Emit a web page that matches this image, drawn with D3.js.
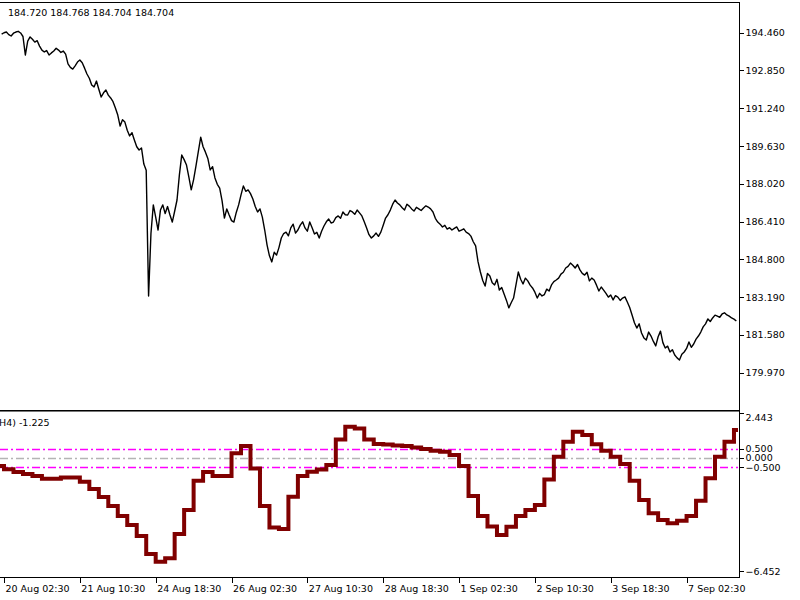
<!DOCTYPE html>
<html>
<head>
<meta charset="utf-8">
<title>Price chart with H4 oscillator</title>
<script src="https://cdn.jsdelivr.net/npm/d3@7"></script>
<style>
  body { margin: 0; background: #fff; }
  svg { display: block; background: #fff; }
  text { font-family: "DejaVu Sans", sans-serif; font-size: 9.5px; fill: #000; }
  .price { fill: none; stroke: #000; stroke-width: 1.4px; stroke-linejoin: round; }
  .osc { fill: none; stroke: #800000; stroke-width: 4px; stroke-linejoin: miter; stroke-linecap: square; }
  .frame { stroke: #000; stroke-width: 1px; shape-rendering: crispEdges; }
  .axis path, .axis line { stroke: #000; shape-rendering: crispEdges; }
  .level { fill: none; stroke-width: 1.3px; stroke-dasharray: 8,3,2,3; }
</style>
</head>
<body>
<svg width="800" height="600"></svg>
<script>
// hourly close prices
var closes = [
  194.40, 194.46, 194.49, 194.38, 194.32, 194.44, 194.49, 194.52, 194.45, 194.30,
  193.51, 194.10, 194.28, 194.18, 194.06, 194.12, 193.89, 193.72, 193.64, 193.70,
  193.51, 193.60, 193.68, 193.80, 193.72, 193.62, 193.68, 193.55, 193.13, 192.98,
  192.91, 193.05, 193.21, 193.30, 193.18, 192.95, 192.70, 192.52, 192.23, 192.15,
  192.40, 192.05, 191.72, 191.90, 192.02, 191.80, 191.68, 191.52, 191.25, 190.95,
  190.48, 190.75, 190.65, 190.30, 190.06, 190.20, 189.89, 189.60, 189.46, 189.55,
  188.86, 188.60, 183.24, 185.90, 187.12, 186.60, 186.05, 186.90, 187.12, 186.75,
  187.05, 186.70, 186.39, 186.85, 187.33, 188.40, 189.25, 189.05, 188.82, 188.30,
  187.76, 188.20, 188.78, 189.40, 190.01, 189.60, 189.37, 189.10, 188.61, 188.75,
  188.27, 188.00, 187.84, 187.30, 186.56, 186.95, 186.69, 186.45, 186.39, 186.80,
  187.12, 187.55, 187.93, 187.70, 187.76, 187.60, 187.37, 187.05, 186.82, 186.95,
  186.60, 186.05, 185.41, 184.95, 184.69, 185.10, 184.98, 185.30, 185.71, 185.90,
  185.96, 185.80, 186.14, 186.30, 185.92, 186.05, 186.26, 186.40, 186.14, 186.00,
  186.39, 186.15, 185.88, 185.95, 185.71, 186.00, 186.22, 186.40, 186.52, 186.35,
  186.39, 186.58, 186.65, 186.55, 186.82, 186.70, 186.69, 186.88, 186.82, 186.72,
  186.90, 186.78, 186.65, 186.40, 186.14, 185.85, 185.71, 185.80, 185.92, 185.78,
  185.96, 186.25, 186.56, 186.70, 186.90, 187.15, 187.33, 187.20, 187.12, 187.00,
  186.90, 187.15, 187.07, 186.95, 186.86, 187.02, 186.95, 186.88, 186.99, 187.08,
  187.03, 186.95, 186.82, 186.55, 186.39, 186.30, 186.18, 186.25, 186.09, 186.15,
  186.05, 186.12, 186.18, 186.00, 186.05, 186.10, 185.96, 185.90, 185.79, 185.55,
  185.37, 184.70, 184.26, 183.90, 183.66, 184.20, 184.09, 183.80, 183.71, 183.95,
  183.49, 183.60, 183.32, 183.05, 182.73, 182.95, 183.15, 183.70, 184.26, 183.95,
  183.75, 184.00, 183.88, 183.70, 183.58, 183.40, 183.15, 183.35, 183.24, 183.30,
  183.53, 183.45, 183.71, 183.85, 183.92, 184.00, 184.17, 184.25, 184.43, 184.50,
  184.64, 184.55, 184.43, 184.58, 184.35, 184.20, 184.13, 184.25, 183.88, 184.00,
  183.92, 183.70, 183.45, 183.62, 183.49, 183.35, 183.19, 183.28, 183.07, 183.25,
  183.19, 183.05, 183.15, 183.20, 182.98, 182.75, 182.43, 182.10, 181.87, 182.05,
  181.66, 181.45, 181.36, 181.70, 181.53, 181.30, 181.11, 181.50, 181.74, 181.25,
  181.02, 181.10, 180.85, 180.95, 180.72, 180.60, 180.51, 180.75, 180.85, 181.00,
  181.28, 181.05, 181.19, 181.40, 181.53, 181.70, 181.92, 182.05, 182.26, 182.15,
  182.30, 182.42, 182.38, 182.33, 182.47, 182.52, 182.43, 182.38, 182.30, 182.25,
  182.17
];

// oscillator, one value per H4 bar
var oscValues = [
  -0.43, -0.61, -0.76, -0.87, -0.98, -1.12, -1.12, -1.05, -1.05, -1.29,
  -1.68, -2.12, -2.61, -3.16, -3.65, -4.25, -5.23, -5.65, -5.46, -4.14,
  -2.83, -1.23, -0.76, -0.98, -0.98, 0.26, 0.66, -0.56, -2.61, -3.78,
  -3.86, -2.10, -0.98, -0.74, -0.62, -0.38, 1.02, 1.71, 1.62, 1.02,
  0.77, 0.74, 0.69, 0.66, 0.58, 0.50, 0.40, 0.35, 0.17, -0.43,
  -2.07, -3.16, -3.73, -4.19, -3.74, -3.16, -2.83, -2.56, -1.16, 0.08,
  0.89, 1.44, 1.26, 0.75, 0.40, 0.08, -0.32, -1.23, -2.28, -3.01,
  -3.37, -3.55, -3.41, -3.16, -2.32, -1.10, 0.08, 0.89, 1.53
];

var priceTicks = [194.46, 192.85, 191.24, 189.63, 188.02, 186.41, 184.80, 183.19, 181.58, 179.97];
var oscTicks = [2.443, 0.5, 0.0, -0.5, -6.452];
var levelValues = [0.5, 0.0, -0.5];
var levelColors = ['#ff00ff', '#b4b4b4', '#ff00ff'];
var timeLabels = ['20 Aug 02:30', '21 Aug 10:30', '24 Aug 18:30', '26 Aug 02:30', '27 Aug 10:30',
                  '28 Aug 18:30', '1 Sep 02:30', '2 Sep 10:30', '3 Sep 18:30', '7 Sep 02:30'];
var timeBars = [1, 33, 65, 97, 129, 161, 193, 225, 257, 289];
var headerText = '184.720 184.768 184.704 184.704';
var oscText = 'H4) -1.225';

var svg = d3.select('svg');
var axisX = 739.5;

var x = d3.scaleLinear().domain([0, 311]).range([1.64, 738.71]);
var yPrice = d3.scaleLinear().domain([178.42, 195.77]).range([409, 2]);
var yOsc = d3.scaleLinear().domain([-6.452, 2.443]).range([576.5, 413.3]);

var defs = svg.append('defs');
defs.append('clipPath').attr('id', 'clipMain')
  .append('rect').attr('x', 0).attr('y', 3).attr('width', 739).attr('height', 406);
defs.append('clipPath').attr('id', 'clipOsc')
  .append('rect').attr('x', 0).attr('y', 412).attr('width', 738).attr('height', 165);

// frames
svg.append('line').attr('class', 'frame').attr('x1', 0).attr('x2', axisX).attr('y1', 2.5).attr('y2', 2.5);
svg.append('line').attr('class', 'frame').attr('x1', 0).attr('x2', axisX).attr('y1', 410.5).attr('y2', 410.5);
svg.append('line').attr('class', 'frame').style('stroke', '#777').attr('x1', 0).attr('x2', axisX).attr('y1', 411.5).attr('y2', 411.5);
svg.append('line').attr('class', 'frame').attr('x1', axisX).attr('x2', axisX).attr('y1', 2).attr('y2', 578);
svg.append('line').attr('class', 'frame').attr('x1', 0).attr('x2', axisX).attr('y1', 577.5).attr('y2', 577.5);

// price line
var priceLine = d3.line()
  .x(function(d, i) { return x(i); })
  .y(function(d) { return yPrice(d); });

svg.append('path')
  .datum(closes)
  .attr('class', 'price')
  .attr('clip-path', 'url(#clipMain)')
  .attr('d', priceLine);

// price axis
var priceAxis = d3.axisRight(yPrice)
  .tickValues(priceTicks)
  .tickSize(4)
  .tickSizeOuter(0)
  .tickPadding(2)
  .tickFormat(d3.format('.3f'));

svg.append('g')
  .attr('class', 'axis')
  .attr('transform', 'translate(' + axisX + ',0)')
  .call(priceAxis)
  .call(function(g) { g.select('.domain').remove(); });

// oscillator levels
svg.append('g').selectAll('line')
  .data(levelValues)
  .enter()
  .append('line')
  .attr('class', 'level')
  .attr('x1', 0).attr('x2', 738)
  .attr('y1', function(d) { return Math.round(yOsc(d)) + 0.5; })
  .attr('y2', function(d) { return Math.round(yOsc(d)) + 0.5; })
  .style('stroke', function(d, i) { return levelColors[i]; });

// oscillator step line
var oscPoints = oscValues.map(function(v, k) { return { bar: 4 * k - 3, v: v }; });
oscPoints.push({ bar: 313, v: oscValues[oscValues.length - 1] });

var oscLine = d3.line()
  .curve(d3.curveStepAfter)
  .x(function(d) { return x(d.bar); })
  .y(function(d) { return yOsc(d.v); });

svg.append('path')
  .datum(oscPoints)
  .attr('class', 'osc')
  .attr('clip-path', 'url(#clipOsc)')
  .attr('d', oscLine);

// oscillator axis (extreme labels pulled inside the panel)
var oscAxis = svg.append('g').attr('class', 'axis');
oscAxis.selectAll('line')
  .data(oscTicks)
  .enter()
  .append('line')
  .attr('x1', axisX).attr('x2', axisX + 4)
  .attr('y1', function(d) { return Math.round(Math.max(413, Math.min(571, yOsc(d)))) + 0.5; })
  .attr('y2', function(d) { return Math.round(Math.max(413, Math.min(571, yOsc(d)))) + 0.5; });
oscAxis.selectAll('text')
  .data(oscTicks)
  .enter()
  .append('text')
  .attr('x', axisX + 6)
  .attr('y', function(d) { return Math.max(418, Math.min(571.5, yOsc(d))); })
  .attr('dy', '0.35em')
  .text(d3.format('.3f'));

// time axis
var timeAxis = d3.axisBottom(x)
  .tickValues(timeBars)
  .tickSize(5)
  .tickSizeOuter(0)
  .tickFormat(function(d, i) { return timeLabels[i]; });

svg.append('g')
  .attr('class', 'axis')
  .attr('transform', 'translate(0,577.5)')
  .call(timeAxis)
  .call(function(g) { g.select('.domain').remove(); })
  .selectAll('text')
  .attr('text-anchor', 'start')
  .attr('x', 1);

// captions
svg.append('text').attr('x', 8).attr('y', 16).text(headerText);
svg.append('text').attr('x', -1).attr('y', 426).text(oscText);
</script>
</body>
</html>
